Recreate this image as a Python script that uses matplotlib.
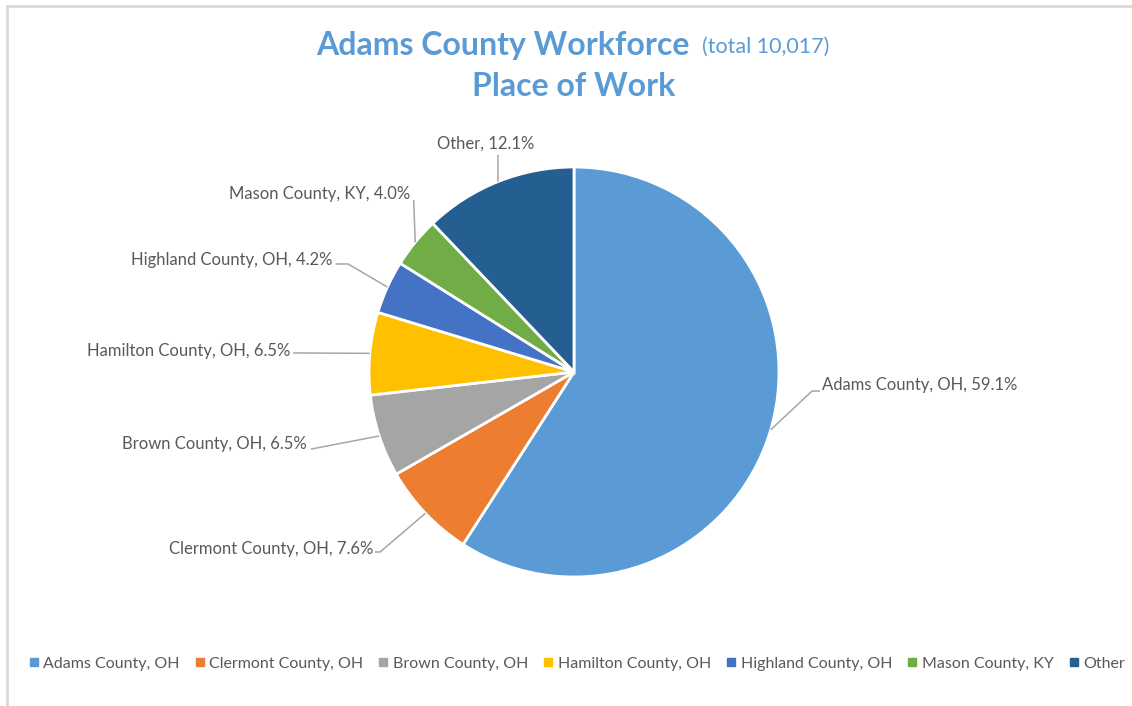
import numpy as np
import matplotlib
matplotlib.use('Agg')
import matplotlib.pyplot as plt
from matplotlib.lines import Line2D

plt.rcParams['font.family'] = ['Lato', 'DejaVu Sans']

places = ['Adams County, OH', 'Clermont County, OH', 'Brown County, OH',
          'Hamilton County, OH', 'Highland County, OH', 'Mason County, KY', 'Other']
shares = [59.1, 7.6, 6.5, 6.5, 4.2, 4.0, 12.1]
colors = ['#5B9BD5', '#ED7D31', '#A5A5A5', '#FFC000', '#4472C4', '#70AD47', '#255E91']

# label placement (text anchor, elbow of leader line), in pie radius units
label_pos = [(1.21, -0.065), (-0.98, -0.862), (-1.302, -0.352), (-1.385, 0.100),
             (-1.176, 0.548), (-0.80, 0.866), (-0.429, 1.115)]
label_ha = ['left', 'right', 'right', 'right', 'right', 'right', 'center']
elbows = [[(1.161, -0.093), (1.20, -0.093)],
          [(-0.946, -0.878), (-0.971, -0.878)],
          [(-1.283, -0.376)],
          [(-1.37, 0.093)],
          [(-1.102, 0.527), (-1.163, 0.527)],
          [(-0.782, 0.839)],
          [(-0.371, 1.06)]]

text_col = '#595959'
line_col = '#A6A6A6'
title_col = '#5B9BD5'

fig = plt.figure(figsize=(11.32, 7.06), dpi=100)
ax = fig.add_axes([(574 - 205) / 1132, (706 - 577) / 706, 410 / 1132, 410 / 706])

wedges, _ = ax.pie(shares, colors=colors, startangle=90, counterclock=False,
                   radius=1, wedgeprops=dict(edgecolor='white', linewidth=2))
ax.set_xlim(-1, 1)
ax.set_ylim(-1, 1)
ax.set_aspect('equal')
ax.axis('off')

for w, name, val, pos, ha, elb in zip(wedges, places, shares, label_pos, label_ha, elbows):
    ang = np.deg2rad((w.theta1 + w.theta2) / 2)
    start = (np.cos(ang), np.sin(ang))
    pts = [start] + elb
    ax.plot([p[0] for p in pts], [p[1] for p in pts], color=line_col, lw=1.1,
            clip_on=False, solid_capstyle='butt')
    ax.text(pos[0], pos[1], f'{name}, {val:.1f}%', ha=ha, va='center',
            fontsize=12, color=text_col, clip_on=False)

# title
fig.text(690 / 1132, 1 - 45 / 706, 'Adams County Workforce', ha='right', va='center',
         fontsize=23, fontweight='bold', color=title_col)
fig.text(702 / 1132, 1 - 47 / 706, '(total 10,017)', ha='left', va='center',
         fontsize=15.5, color=title_col)
fig.text(574 / 1132, 1 - 86 / 706, 'Place of Work', ha='center', va='center',
         fontsize=23, fontweight='bold', color=title_col)

# legend
handles = [Line2D([], [], marker='s', linestyle='none', markersize=6,
                  markerfacecolor=c, markeredgecolor=c) for c in colors]
fig.legend(handles, places, loc='center', bbox_to_anchor=(577 / 1132, 1 - 664 / 706),
           ncol=7, frameon=False, fontsize=11.5, labelcolor=text_col,
           handlelength=0.6, handletextpad=0.3, columnspacing=0.95)

# chart border (top and left visible)
fig.add_artist(Line2D([7 / 1132, 1], [1 - 6 / 706, 1 - 6 / 706], color='#D9D9D9', lw=2))
fig.add_artist(Line2D([7 / 1132, 7 / 1132], [0, 1 - 6 / 706], color='#D9D9D9', lw=2))

fig.savefig('out.png', dpi=100, facecolor='white')
